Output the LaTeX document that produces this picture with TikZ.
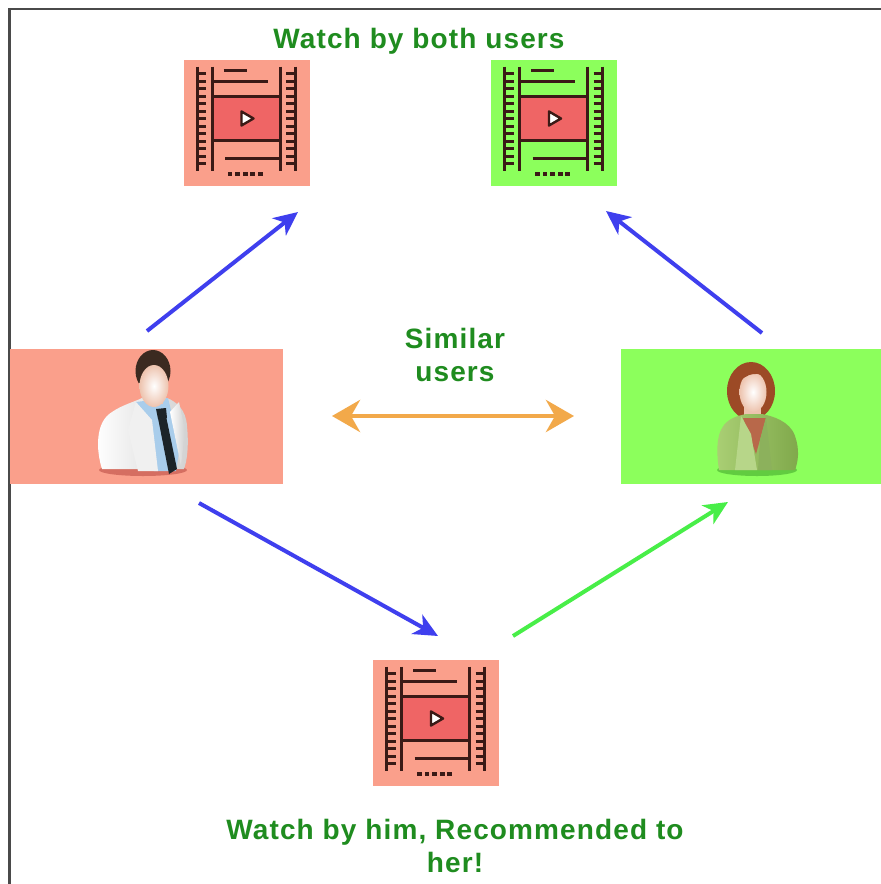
\documentclass[tikz,border=0pt]{standalone}
\usepackage{fontspec}
\setmainfont{Liberation Sans}
\newfontfamily\labelfont{Liberation Sans}[LetterSpace=4]
\usetikzlibrary{arrows.meta}

\definecolor{salmon}{HTML}{FA9F8B}
\definecolor{lime}{HTML}{8CFF5C}
\definecolor{filmred}{HTML}{EF6565}
\definecolor{ink}{HTML}{3A1A16}
\definecolor{txtgreen}{HTML}{1F8C1F}
\definecolor{arrblue}{HTML}{3F3FEE}
\definecolor{arrgreen}{HTML}{48EE48}
\definecolor{arrorange}{HTML}{F2A94A}
\definecolor{frame}{HTML}{4A4A4A}
\definecolor{shirtblue}{HTML}{A9CDEB}
\definecolor{tie}{HTML}{1C2428}
\definecolor{hairdark}{HTML}{3B2A20}
\definecolor{hairred}{HTML}{9C4A26}
\definecolor{skin}{HTML}{EDC3AE}
\definecolor{jacketlight}{HTML}{AACF74}
\definecolor{jacketdark}{HTML}{7FA84A}
\definecolor{blouse}{HTML}{B8684A}

\tikzset{
  panel/.style={draw=none, inner sep=0pt, minimum width=126pt, minimum height=126pt},
  userbox/.style={draw=none, inner sep=0pt, minimum height=135pt},
  caption/.style={text=txtgreen, font=\labelfont\bfseries\fontsize{28}{33}\selectfont, align=center, inner sep=0pt},
  inkline/.style={draw=ink, line width=3pt},
  link/.style={line width=4pt, -{Stealth[length=24pt,width=22pt,inset=7pt]}},
  % film strip icon, drawn around its own centre
  film/.pic={
    \fill[filmred] (-34.5,-26) rectangle (33.5,17.5);
    \draw[inkline] (-34.5,-26) -- (33.5,-26) (-34.5,17.5) -- (33.5,17.5);
    \draw[inkline] (-49.5,-56) -- (-49.5,48) (-34.5,-56) -- (-34.5,48)
                   (33.5,-56) -- (33.5,48) (48.5,-56) -- (48.5,48);
    \foreach \k in {0,...,12}{
      \draw[inkline] (-49.5,-49+7.5*\k) -- (-40.5,-49+7.5*\k)
                     (39.5,-49+7.5*\k) -- (48.5,-49+7.5*\k);
    }
    \draw[inkline] (-23,-52.5) -- (0,-52.5) (-34.5,-41) -- (21,-41)
                   (-21.5,36) -- (33.5,36);
    \filldraw[fill=white, draw=ink, line width=2.4pt, line join=round]
      (-5,-11) -- (7,-4) -- (-5,3) -- cycle;
    \foreach \k in {0,...,4}{
      \fill[ink] (-19+7.6*\k,49) rectangle ++(4.8,4.4);
    }
  }
}

\begin{document}
\begin{tikzpicture}[x=1pt, y=-1pt]
\useasboundingbox (0,0) rectangle (881,884);
\fill[white] (0,0) rectangle (881,884);

% window frame
\draw[frame, line width=2.6pt] (9.5,884) -- (9.5,9) -- (881,9);

% video panels
\node[panel, fill=salmon] (vidA) at (246.5,122.5) {};
\node[panel, fill=lime]   (vidB) at (554,122.5) {};
\node[panel, fill=salmon] (vidC) at (436,722.5) {};
\pic at (vidA.center) {film};
\pic at (vidB.center) {film};
\pic at (vidC.center) {film};

% user panels
\node[userbox, fill=salmon, minimum width=273pt] (him) at (146.5,416.5) {};
\node[userbox, fill=lime, minimum width=260pt]   (her) at (751,416.5) {};

% --- man ---
\fill[black!50!red, opacity=0.3] (143,470) ellipse (44 and 6);
\shade[left color=white, right color=black!18]
  (102,469) .. controls (96,450) and (95,422) .. (112,412)
  .. controls (122,405) and (134,402) .. (142,398) -- (167,398)
  .. controls (177,402) and (186,410) .. (187,426)
  .. controls (189,446) and (187,461) .. (184,469) -- cycle;
\fill[shirtblue] (136,402) -- (168,398) -- (180,446) -- (176,471) -- (154,471) -- cycle;
\fill[black!6] (136,402) -- (152,420) -- (158,471) -- (138,471) -- (128,430) -- cycle;
\fill[tie] (158,418) -- (166,416) -- (177,469) -- (169,474) -- cycle;
\fill[tie] (156,409) -- (166,408) -- (167,418) -- (158,419) -- cycle;
\shade[left color=white, right color=black!18] (170,412) -- (179,402) -- (185,430) -- (181,466) -- cycle;
\fill[skin] (146,388) rectangle (163,404);
\fill[hairdark] (153,371) ellipse (17.5 and 21);
\shade[inner color=white, outer color=skin] (154,386) ellipse (14.5 and 21);

% --- woman ---
\fill[green!35!black, opacity=0.3] (757,470) ellipse (40 and 6);
\fill[hairred] (751,391) ellipse (24 and 29);
\fill[skin] (744,402) rectangle (761,422);
\shade[left color=jacketlight, right color=jacketdark]
  (719,470) .. controls (716,450) and (716,430) .. (728,421)
  .. controls (735,416) and (742,415) .. (746,414) -- (762,414)
  .. controls (772,416) and (790,421) .. (795,436)
  .. controls (800,450) and (798,462) .. (795,470) -- cycle;
\fill[blouse] (743,418) -- (766,418) -- (756,454) -- cycle;
\fill[jacketlight!85!white] (741,416) -- (751,434) -- (757,470) -- (735,470) -- cycle;
\fill[jacketdark!90!white] (766,417) -- (760,440) -- (758,470) -- (772,470) -- cycle;
\shade[inner color=white, outer color=skin] (753,392) ellipse (13.5 and 20);
\fill[hairred] (736,380) .. controls (738,361) and (767,359) .. (769,380)
  .. controls (760,371) and (747,371) .. (736,386) -- cycle;

% captions
\node[caption] (both) at (419,41) {Watch by both users};
\node[caption] (similar) at (455,355) {Similar\\users};
\node[caption] (rec) at (455,846) {Watch by him, Recommended to\\her!};

% arrow end points
\coordinate (a1) at (147,331);
\coordinate (a2) at (298,212);
\coordinate (b1) at (762,333);
\coordinate (b2) at (606,211);
\coordinate (c1) at (199,503);
\coordinate (c2) at (438,636);
\coordinate (d1) at (513,636);
\coordinate (d2) at (728,502);
\coordinate (s1) at (332,416);
\coordinate (s2) at (574,416);

\draw[link, arrblue] (a1) -- (a2);
\draw[link, arrblue] (b1) -- (b2);
\draw[link, arrblue] (c1) -- (c2);
\draw[link, arrgreen] (d1) -- (d2);
\draw[arrorange, line width=4.5pt,
  {Stealth[length=28pt,width=32pt,inset=9pt]}-{Stealth[length=28pt,width=32pt,inset=9pt]}]
  (s1) -- (s2);
\end{tikzpicture}
\end{document}
